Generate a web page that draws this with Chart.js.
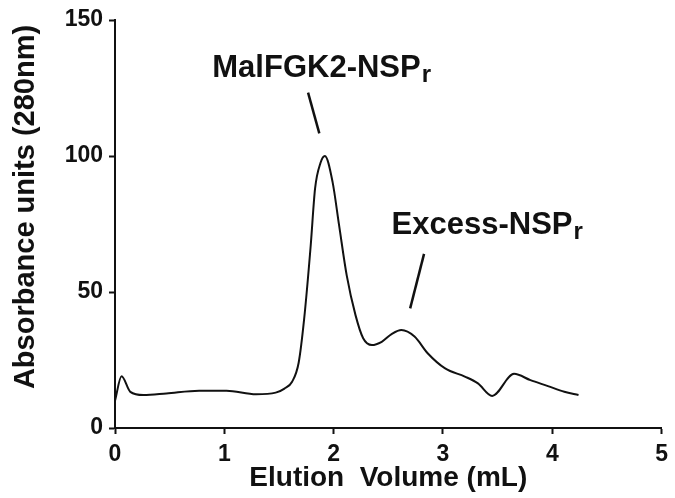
<!DOCTYPE html>
<html>
<head>
  <meta charset="utf-8">
  <title>Elution profile</title>
  <script src="https://cdn.jsdelivr.net/npm/chart.js"></script>
  <style>
    body { margin: 0; background: #fff; }
    #wrap { width: 675px; height: 498px; }
  </style>
</head>
<body>
  <div id="wrap"><canvas id="c" width="675" height="498"></canvas></div>

  <script>
    // elution volume (mL) and absorbance at 280nm
    const volume = [0, 0.06, 0.14, 0.26, 0.47, 0.77, 1.02, 1.29, 1.47, 1.55, 1.62, 1.68, 1.73, 1.79, 1.83, 1.88, 1.92, 1.99, 2.05, 2.12, 2.2, 2.27, 2.35, 2.44, 2.53, 2.62, 2.74, 2.86, 3.02, 3.2, 3.32, 3.45, 3.65, 3.8, 3.96, 4.11, 4.24];
    const absorbance = [10, 19, 13.3, 12.1, 12.7, 13.7, 13.7, 12.4, 13.0, 14.5, 17, 24, 40, 67, 88, 97.5, 100, 90.5, 74.5, 56, 41.5, 33, 30.5, 31.7, 34.5, 36, 33.6, 27.5, 21.9, 18.9, 16.4, 11.8, 19.9, 17.6, 15.4, 13.3, 12.1];

    const xTicks = [0, 1, 2, 3, 4, 5];
    const yTicks = [0, 50, 100, 150];

    const yTitle = 'Absorbance units (280nm)';
    const xTitle = 'Elution  Volume (mL)';

    // peak labels, placed in data units
    const peakNames = ['MalFGK2-NSP', 'Excess-NSP'];
    const peakSubs = ['r', 'r'];

    const annotations = [
      { at: [0.89, 129], from: [1.766, 123.3], to: [1.869, 108.3] },
      { at: [2.53, 71.3], from: [2.827, 64], to: [2.70, 44] }
    ];

    const FONT = '"Liberation Sans", Arial, sans-serif';
    const INK = '#111';

    const labels = {
      id: 'labels',
      afterDraw(chart) {
        const { ctx, scales: { x, y } } = chart;
        ctx.save();
        ctx.fillStyle = INK;
        ctx.strokeStyle = INK;

        annotations.forEach((a, i) => {
          const px = x.getPixelForValue(a.at[0]);
          const py = y.getPixelForValue(a.at[1]);
          ctx.textAlign = 'left';
          ctx.textBaseline = 'alphabetic';
          ctx.font = `bold 31px ${FONT}`;
          ctx.fillText(peakNames[i], px, py);
          const w = ctx.measureText(peakNames[i]).width;
          ctx.font = `bold 24px ${FONT}`;
          ctx.fillText(peakSubs[i], px + w + 1, py + 5);

          ctx.lineWidth = 2.5;
          ctx.beginPath();
          ctx.moveTo(x.getPixelForValue(a.from[0]), y.getPixelForValue(a.from[1]));
          ctx.lineTo(x.getPixelForValue(a.to[0]), y.getPixelForValue(a.to[1]));
          ctx.stroke();
        });

        // y title, rotated
        ctx.translate(26, 207);
        ctx.rotate(-Math.PI / 2);
        ctx.textAlign = 'center';
        ctx.textBaseline = 'middle';
        ctx.font = `bold 29px ${FONT}`;
        ctx.fillText(yTitle, 0, 0);
        ctx.restore();
      }
    };

    new Chart(document.getElementById('c'), {
      type: 'line',
      data: {
        datasets: [{
          data: volume.map((v, i) => ({ x: v, y: absorbance[i] })),
          borderColor: INK,
          borderWidth: 2,
          pointRadius: 0,
          fill: false,
          cubicInterpolationMode: 'monotone'
        }]
      },
      options: {
        responsive: false,
        animation: false,
        devicePixelRatio: 1,
        layout: { padding: { top: 20, right: 10, left: 0, bottom: 0 } },
        plugins: { legend: { display: false }, tooltip: { enabled: false } },
        scales: {
          x: {
            type: 'linear',
            min: 0,
            max: 5,
            afterBuildTicks: s => { s.ticks = xTicks.map(v => ({ value: v })); },
            afterFit: s => { s.height = 70; },
            grid: { drawOnChartArea: false, tickLength: 6, tickWidth: 2, color: INK },
            border: { display: true, color: INK, width: 2 },
            ticks: { color: INK, padding: 7, font: { family: FONT, size: 23, weight: 'bold' } },
            title: {
              display: true,
              text: xTitle,
              color: INK,
              padding: { top: 0, bottom: 3 },
              font: { family: FONT, size: 28, weight: 'bold' }
            }
          },
          y: {
            type: 'linear',
            min: 0,
            max: 150,
            afterBuildTicks: s => { s.ticks = yTicks.map(v => ({ value: v })); },
            afterFit: s => { s.width = 115; },
            grid: { drawOnChartArea: false, tickLength: 6, tickWidth: 2, color: INK },
            border: { display: true, color: INK, width: 2 },
            ticks: { color: INK, padding: 6, font: { family: FONT, size: 23, weight: 'bold' } }
          }
        }
      },
      plugins: [labels]
    });
  </script>
</body>
</html>
